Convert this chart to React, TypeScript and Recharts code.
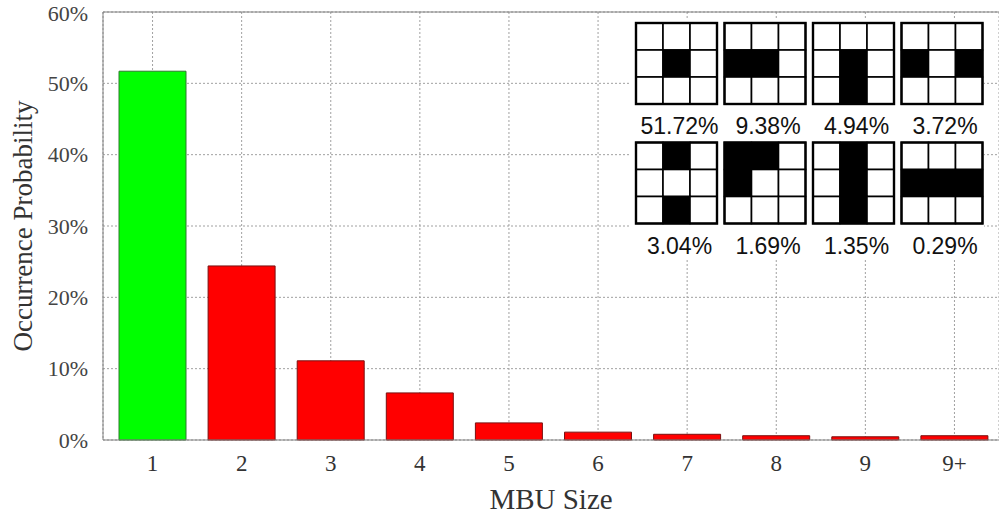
import React from "react";
import {
  BarChart,
  Bar,
  Cell,
  XAxis,
  YAxis,
  CartesianGrid,
  ReferenceLine,
} from "recharts";

// MBU size categories and occurrence probability (%)
const sizes = ["1", "2", "3", "4", "5", "6", "7", "8", "9", "9+"];
const probability = [51.7, 24.4, 11.1, 6.6, 2.4, 1.1, 0.8, 0.6, 0.45, 0.6];
const yTicks = [0, 10, 20, 30, 40, 50, 60];

// inset: 3x3 cell patterns (row-major, 1 = upset cell) and their share
const patterns = [
  [0, 0, 0, 0, 1, 0, 0, 0, 0],
  [0, 0, 0, 1, 1, 0, 0, 0, 0],
  [0, 0, 0, 0, 1, 0, 0, 1, 0],
  [0, 0, 0, 1, 0, 1, 0, 0, 0],
  [0, 1, 0, 0, 0, 0, 0, 1, 0],
  [1, 1, 0, 1, 0, 0, 0, 0, 0],
  [0, 1, 0, 0, 1, 0, 0, 1, 0],
  [0, 0, 0, 1, 1, 1, 0, 0, 0],
];
const patternShares = [
  "51.72%",
  "9.38%",
  "4.94%",
  "3.72%",
  "3.04%",
  "1.69%",
  "1.35%",
  "0.29%",
];

const data = sizes.map((s, i) => ({ size: s, p: probability[i] }));

const serif = "'Liberation Serif', 'DejaVu Serif', serif";

function Inset() {
  const box = 81;
  const cell = box / 3;
  const colX = [636, 724.5, 813, 901.5];
  const rowY = [23, 142.5];
  const labelY = [134, 254];
  return (
    <svg
      width={999}
      height={514}
      style={{ position: "absolute", left: 0, top: 0, pointerEvents: "none" }}
    >
      <rect x={630} y={20} width={354} height={238} fill="#fff" />
      {patterns.map((pat, k) => {
        const x0 = colX[k % 4];
        const y0 = rowY[Math.floor(k / 4)];
        return (
          <g key={k}>
            {pat.map((v, j) => (
              <rect
                key={j}
                x={x0 + (j % 3) * cell}
                y={y0 + Math.floor(j / 3) * cell}
                width={cell}
                height={cell}
                fill={v ? "#000" : "#fff"}
                stroke="#000"
                strokeWidth={1.6}
              />
            ))}
            <rect
              x={x0}
              y={y0}
              width={box}
              height={box}
              fill="none"
              stroke="#000"
              strokeWidth={2.4}
            />
            <text
              x={x0 + box / 2 + 3}
              y={labelY[Math.floor(k / 4)]}
              textAnchor="middle"
              fontFamily="'Liberation Sans', Arial, sans-serif"
              fontSize={23}
              fill="#111"
            >
              {patternShares[k]}
            </text>
          </g>
        );
      })}
    </svg>
  );
}

export default function App() {
  return (
    <div
      style={{
        position: "absolute",
        left: 0,
        top: 0,
        width: 999,
        height: 514,
        overflow: "hidden",
        background: "#fff",
      }}
    >
      <BarChart
        width={999}
        height={514}
        data={data}
        margin={{ top: 12, right: 0, left: 0, bottom: 0 }}
      >
        <CartesianGrid stroke="#a0a0a0" strokeDasharray="2 2" />
        <XAxis
          dataKey="size"
          height={74}
          padding={{ left: 5, right: 0 }}
          tickLine={false}
          tickSize={0}
          tickMargin={15}
          stroke="#808080"
          tick={{ fill: "#333", fontSize: 23, fontFamily: serif }}
          label={{
            value: "MBU Size",
            position: "insideBottom",
            offset: 5,
            fill: "#333",
            fontSize: 29,
            fontFamily: serif,
          }}
        />
        <YAxis
          width={103}
          domain={[0, 60]}
          ticks={yTicks}
          tickFormatter={(v: number) => `${v}%`}
          tickLine={false}
          tickSize={0}
          tickMargin={15}
          stroke="#808080"
          tick={{ fill: "#444", fontSize: 22, fontFamily: serif }}
          label={{
            value: "Occurrence Probability",
            angle: -90,
            position: "insideLeft",
            offset: 22,
            fill: "#333",
            fontSize: 27,
            fontFamily: serif,
            style: { textAnchor: "middle" },
          }}
        />
        <ReferenceLine y={60} stroke="#808080" />
        <Bar
          dataKey="p"
          barSize={67}
          stroke="#7a1010"
          strokeWidth={1}
          isAnimationActive={false}
        >
          {data.map((d, i) => (
            <Cell
              key={d.size}
              fill={i === 0 ? "#00ff00" : "#ff0000"}
              stroke={i === 0 ? "#2c7a2c" : "#7a1010"}
            />
          ))}
        </Bar>
      </BarChart>
      <Inset />
    </div>
  );
}
